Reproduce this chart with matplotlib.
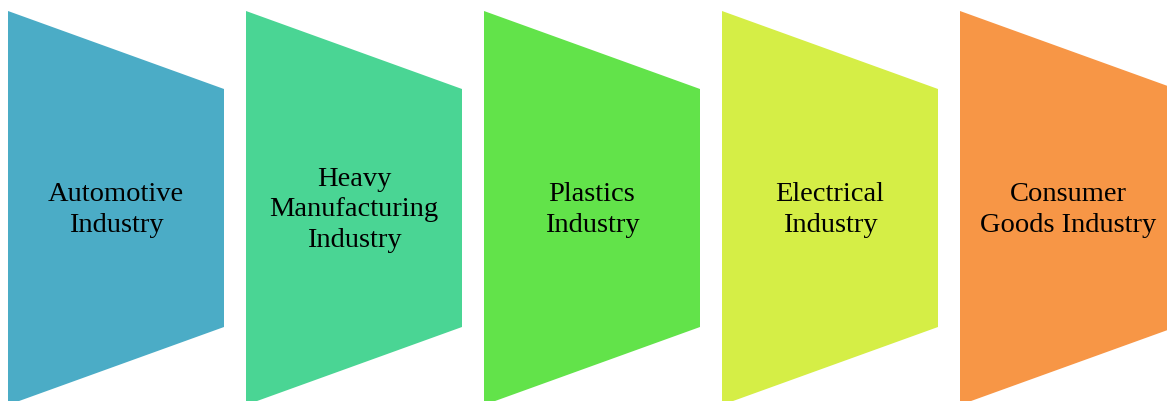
import matplotlib
matplotlib.use("Agg")
import matplotlib.pyplot as plt
from matplotlib.patches import Polygon

labels = ["Automotive\nIndustry",
          "Heavy\nManufacturing\nIndustry",
          "Plastics\nIndustry",
          "Electrical\nIndustry",
          "Consumer\nGoods Industry"]
colors = ["#4BACC6", "#4AD594", "#62E34A", "#D5EE46", "#F79646"]

W, H = 1167, 401
fig = plt.figure(figsize=(W / 100, H / 100), dpi=100)
ax = fig.add_axes([0, 0, 1, 1])
ax.set_xlim(0, W)
ax.set_ylim(H, 0)
ax.axis("off")

x0 = 8        # left edge of first shape
step = 238    # distance between shapes
width = 216   # shape width
top, bottom = 11, 405
inset = 78    # how far the right edge shrinks at top and bottom

for i, (lab, col) in enumerate(zip(labels, colors)):
    left = x0 + i * step
    right = left + width
    pts = [(left, top), (right, top + inset), (right, bottom - inset), (left, bottom)]
    ax.add_patch(Polygon(pts, closed=True, facecolor=col, edgecolor="none"))
    ax.text(left + width / 2, (top + bottom) / 2 + 2, lab, ha="center", va="center",
            fontsize=20.5, family="Liberation Serif", color="black", linespacing=1.3)

fig.savefig("out.png", dpi=100)
